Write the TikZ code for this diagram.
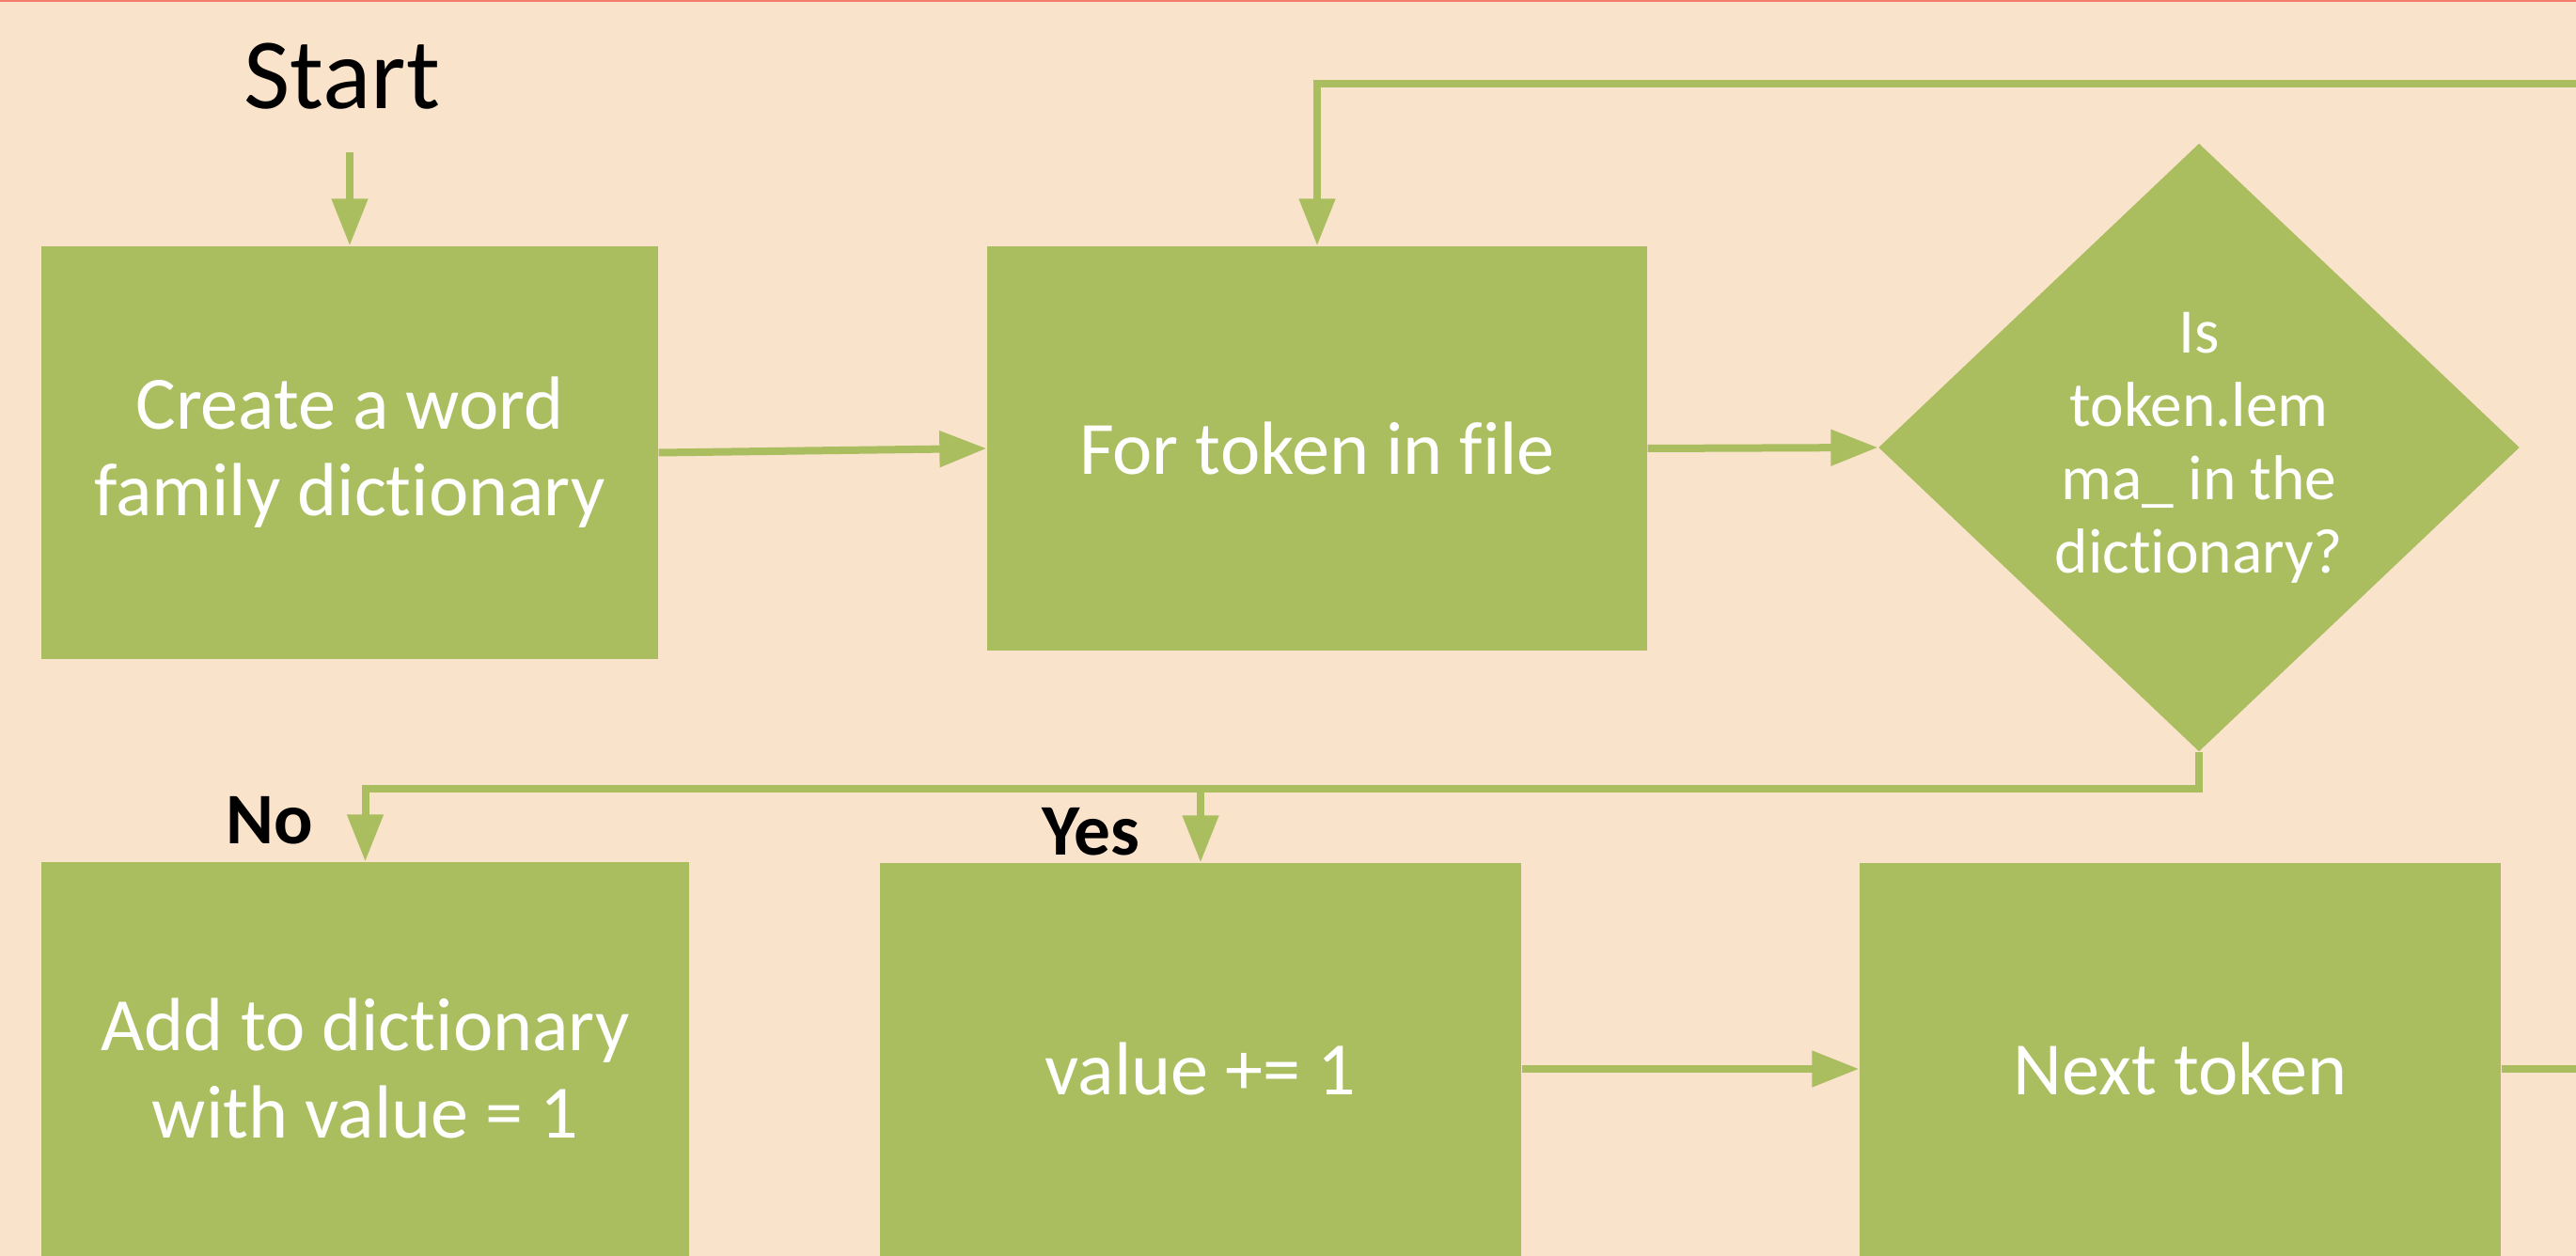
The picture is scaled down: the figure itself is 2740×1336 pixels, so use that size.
\documentclass[tikz,border=0pt]{standalone}
\usepackage{fontspec}
\setmainfont{Carlito}[Ligatures=NoCommon]
\usetikzlibrary{shapes.geometric,arrows.meta}
\definecolor{paper}{HTML}{FAE3CB}
\definecolor{leaf}{HTML}{AABE60}
\definecolor{rim}{HTML}{F47C6C}

\begin{document}
\begin{tikzpicture}[x=0.1mm,y=-0.1mm,
  stepbox/.style={fill=leaf, draw=none, text=white, align=center, inner sep=0pt,
    font=\fontsize{22.8}{26.2}\selectfont},
  decision/.style={diamond, fill=leaf, draw=none, text=white, align=center, inner sep=0pt,
    minimum width=68.2mm, minimum height=64.7mm,
    font=\fontsize{19.2}{22.2}\selectfont},
  flow/.style={draw=leaf, line width=0.8mm,
    -{Triangle[length=5mm,width=3.7mm]}},
  tag/.style={font=\fontsize{22}{26}\selectfont\bfseries, anchor=base, inner sep=0pt},
]
% page frame
\useasboundingbox (0,0) rectangle (2740,1336);
\clip (0,0) rectangle (2740,1336);
\fill[paper] (0,0) rectangle (2740,1336);
\fill[rim] (0,0) rectangle (2740,2.5);

% title
\node[anchor=base, inner sep=0pt, font=\fontsize{30.5}{35}\selectfont] (start) at (364,116) {Start};

% process steps
\node[stepbox, minimum width=65.6mm, minimum height=43.9mm] (box1) at (372,481.5)
  {Create a word\\family dictionary};
\node[stepbox, minimum width=70.2mm, minimum height=43.0mm] (box2) at (1401,477)
  {For token in file};
\node[decision] (dec) at (2339,476)
  {Is\\token.lem\\ma\_ in the\\dictionary?};
\node[stepbox, minimum width=68.9mm, minimum height=43.9mm] (add) at (388.5,1136.5)
  {Add to dictionary\\with value = 1};
\node[stepbox, minimum width=68.2mm, minimum height=43.8mm] (value) at (1277,1137)
  {value += 1};
\node[stepbox, minimum width=68.2mm, minimum height=43.8mm] (next) at (2319,1137)
  {Next token};

% branch labels
\node[tag] (no) at (287,897) {No};
\node[tag] (yes) at (1160,909) {Yes};

% connectors
\draw[flow, shorten <=4.5mm] (start.south -| box1.north) -- (box1.north);
\draw[flow] (box1.east) -- (box2.west);
\draw[flow] (box2.east) -- (dec.west);
\draw[flow] (dec.south) -- (dec.south |- 0,839) -| (add.north);
\draw[flow] (value.north |- 0,839) -- (value.north);
\draw[flow] (value.east) -- (next.west);
\draw[flow] (next.east) -| ++(140,-1048) -| (box2.north);
\end{tikzpicture}
\end{document}
